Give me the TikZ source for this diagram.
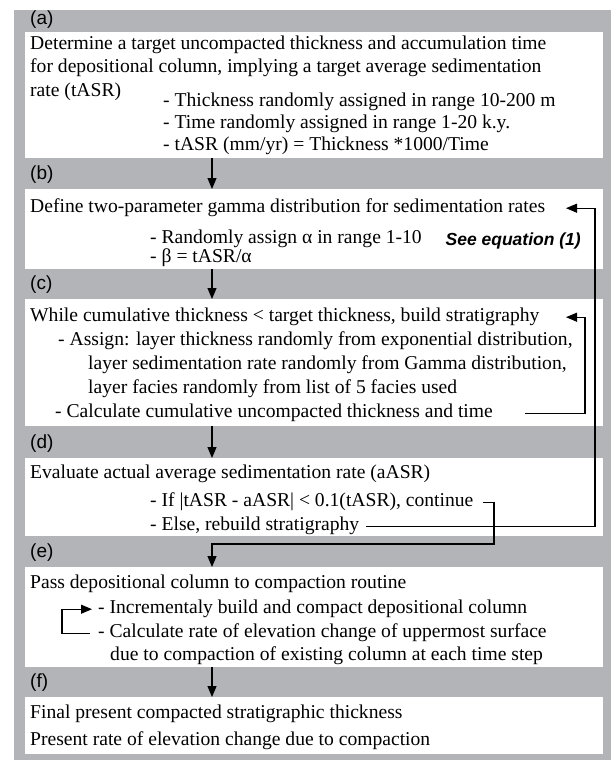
\documentclass[tikz,border=0pt]{standalone}
\usepackage{fontspec}
\setmainfont{Liberation Serif}
\newfontfamily\labfam{Liberation Sans}
\usetikzlibrary{arrows.meta}
\definecolor{bggray}{RGB}{179,180,184}
\newcommand{\txtfont}{\fontsize{19.6}{23}\selectfont}
\newcommand{\labfont}{\labfam\fontsize{19}{21}\selectfont}
\newcommand{\eqfont}{\labfam\bfseries\itshape\fontsize{17.5}{20}\selectfont}
\tikzset{
  box/.style={fill=white, draw=none, inner sep=0pt, anchor=north west, minimum width=578pt},
  txt/.style={inner sep=0pt, anchor=base west, font=\txtfont},
  lab/.style={inner sep=0pt, anchor=base west, font=\labfont},
  eqn/.style={inner sep=0pt, anchor=base east, font=\eqfont},
  arr/.style={-{Triangle[length=11pt,width=9pt]}, line width=1.2pt},
  ln/.style={line width=1.2pt}
}
\begin{document}
\begin{tikzpicture}[x=1pt,y=-1pt]
\useasboundingbox (0,0) rectangle (614,760);
\fill[bggray] (14,10) rectangle (611,760);
% boxes
\node[box, minimum height=126pt] (A) at (25,32) {};
\node[box, minimum height=80pt]  (B) at (25,189) {};
\node[box, minimum height=127pt] (C) at (25,299) {};
\node[box, minimum height=78pt]  (D) at (25,458) {};
\node[box, minimum height=100pt] (E) at (25,567) {};
\node[box, minimum height=57pt]  (F) at (25,697) {};
% labels
\node[lab] (la) at (30,25) {(a)};
\node[lab] (lb) at (30,179) {(b)};
\node[lab] (lc) at (30,289) {(c)};
\node[lab] (ld) at (30,448) {(d)};
\node[lab] (le) at (30,557) {(e)};
\node[lab] (lf) at (30,687) {(f)};
% box a
\node[txt] (a1) at (30,50) {Determine a target uncompacted thickness and accumulation time};
\node[txt] (a2) at (30,73) {for depositional column, implying a target average sedimentation};
\node[txt] (a3) at (30,96) {rate (tASR)};
\node[txt] (a4) at (163,106) {- Thickness randomly assigned in range 10-200 m};
\node[txt] (a5) at (163,128) {- Time randomly assigned in range 1-20 k.y.};
\node[txt] (a6) at (163,150) {- tASR (mm/yr) = Thickness *1000/Time};
% box b
\node[txt] (b1) at (30,212) {Define two-parameter gamma distribution for sedimentation rates};
\node[txt] (b2) at (150,243) {- Randomly assign α in range 1-10};
\node[eqn] (b3) at (581,245) {See equation (1)};
\node[txt] (b4) at (150,262) {- β = tASR/α};
% box c
\node[txt] (c1) at (30,321) {While cumulative thickness < target thickness, build stratigraphy};
\node[txt] (c2) at (58,345) {- Assign: layer thickness randomly from exponential distribution,};
\node[txt] (c3) at (88,369) {layer sedimentation rate randomly from Gamma distribution,};
\node[txt] (c4) at (88,393) {layer facies randomly from list of 5 facies used};
\node[txt] (c5) at (55,417) {- Calculate cumulative uncompacted thickness and time};
% box d
\node[txt] (d1) at (30,478) {Evaluate actual average sedimentation rate (aASR)};
\node[txt] (d2) at (150,506) {- If |tASR - aASR| < 0.1(tASR), continue};
\node[txt] (d3) at (150,530) {- Else, rebuild stratigraphy};
% box e
\node[txt] (e1) at (30,588) {Pass depositional column to compaction routine};
\node[txt] (e2) at (98,613) {- Incrementaly build and compact depositional column};
\node[txt] (e3) at (98,637) {- Calculate rate of elevation change of uppermost surface};
\node[txt] (e4) at (110,660) {due to compaction of existing column at each time step};
% box f
\node[txt] (f1) at (30,718) {Final present compacted stratigraphic thickness};
\node[txt] (f2) at (30,745) {Present rate of elevation change due to compaction};
% helper coordinates
\coordinate (X) at (212,0);
\coordinate (Rin) at (585,0);
\coordinate (Rout) at (595,0);
\coordinate (Tip) at (566,0);
\coordinate (Cs) at (525,0);
\coordinate (Cd) at (494,544);
\coordinate (Lx) at (62,0);
\coordinate (Ltip) at (92,0);
\coordinate (Lend) at (90,0);
% main arrows
\draw[arr] (A.south -| X) -- (B.north -| X);
\draw[arr] (B.south -| X) -- (C.north -| X);
\draw[arr] (C.south -| X) -- (D.north -| X);
\draw[arr] (E.south -| X) -- (F.north -| X);
% continue -> e
\draw[arr] ([xshift=9pt,yshift=1.5pt]d2.mid east) -- ([yshift=1.5pt]d2.mid east -| Cd) -- (Cd) -- (Cd -| X) -- (E.north -| X);
% loop c
\draw[arr] ([yshift=1.5pt]c5.mid east -| Cs) -- ([yshift=1.5pt]c5.mid east -| Rin) -- ([yshift=1.5pt]c1.mid east -| Rin) -- ([yshift=1.5pt]c1.mid east -| Tip);
% else -> b
\draw[arr] ([xshift=7pt,yshift=1.5pt]d3.mid east) -- ([yshift=1.5pt]d3.mid east -| Rout) -- ([yshift=1.5pt]b1.mid east -| Rout) -- ([yshift=1.5pt]b1.mid east -| Tip);
% loop e
\draw[arr] ([yshift=1.5pt]e3.mid west -| Lend) -- ([yshift=1.5pt]e3.mid west -| Lx) -- ([yshift=1.5pt]e2.mid west -| Lx) -- ([yshift=1.5pt]e2.mid west -| Ltip);
\end{tikzpicture}
\end{document}
